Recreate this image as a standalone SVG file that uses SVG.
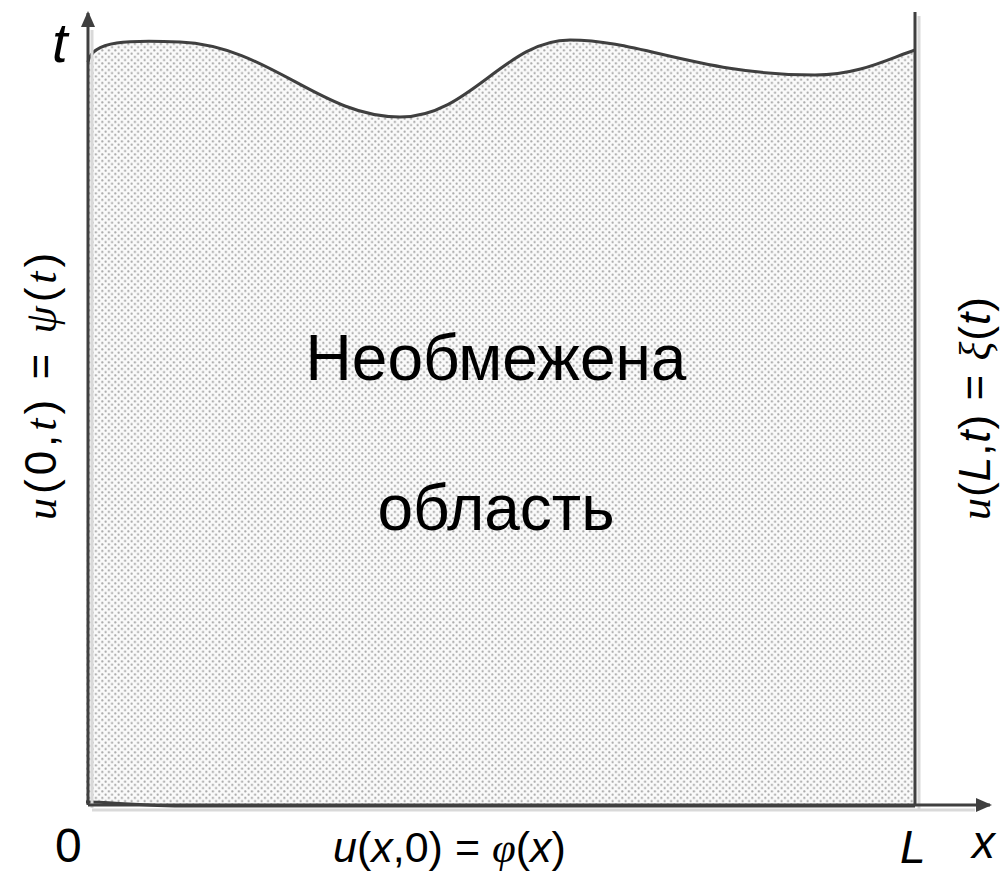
<svg xmlns="http://www.w3.org/2000/svg" width="1003" height="871" viewBox="0 0 1003 871">
<style>
.ln{fill:none;stroke:#3f3f3f;stroke-width:3}
.sh{fill:none;stroke:#d9d9d9;stroke-width:3}
.tx{font-family:"Liberation Sans",Arial,sans-serif;fill:#000}
.it{font-style:italic}
.sf{font-family:"Liberation Serif",serif;font-style:italic}
</style>
<defs>
<pattern id="dots" width="6.5" height="6.5" patternUnits="userSpaceOnUse">
<rect width="6.5" height="6.5" fill="#fafafa"/>
<circle cx="1.6" cy="1.6" r="1.1" fill="#aaaaaa"/>
<circle cx="4.85" cy="4.85" r="1.1" fill="#aaaaaa"/>
</pattern>
<marker id="arrb" markerWidth="16" markerHeight="16" refX="14" refY="8" orient="auto" markerUnits="userSpaceOnUse" viewBox="0 0 16 16">
<path d="M0,1 L16,8 L0,15 Z" fill="#3f3f3f"/>
</marker>
</defs>
<g id="region">
<path d="M88,62 C92,40 130,40 180,42 C270,46 320,117 400,117 C470,117 505,40 570,40 C640,40 700,75 815,75 C860,75 890,58 915,50 L915,806 L180,806 C130,805 100,802 86,802 Z" fill="url(#dots)"/>
<path class="ln" d="M88,62 C92,40 130,40 180,42 C270,46 320,117 400,117 C470,117 505,40 570,40 C640,40 700,75 815,75 C860,75 890,58 915,50"/>
<path class="ln" d="M86,802 C110,802 140,806 190,806 L915,806"/>
</g>
<g id="connectors">
<line class="sh" x1="92" y1="808" x2="92" y2="30"/>
<line class="sh" x1="919" y1="810" x2="919" y2="16"/>
<line class="sh" x1="92" y1="810" x2="975" y2="810"/>
<line class="ln" x1="88" y1="805" x2="88" y2="13" marker-end="url(#arrb)"/>
<line class="ln" x1="915" y1="806" x2="915" y2="12"/>
<line class="ln" x1="88" y1="805" x2="990" y2="805" marker-end="url(#arrb)"/>
</g>
<g id="labels">
<text class="tx it" x="52" y="62" font-size="56">t</text>
<text class="tx" x="55" y="862" font-size="48">0</text>
<text class="tx it" x="900" y="863" font-size="46">L</text>
<text class="tx it" x="972" y="858" font-size="46">x</text>
<text class="tx" x="333" y="862" font-size="43"><tspan class="it">u</tspan>(<tspan class="it">x</tspan>,0) = <tspan class="sf">φ</tspan>(<tspan class="it">x</tspan>)</text>
<text class="tx" transform="translate(56,520) rotate(-90)" font-size="44" letter-spacing="4"><tspan class="sf">u</tspan>(0,<tspan class="sf">t</tspan>) = <tspan class="sf">ψ</tspan>(<tspan class="sf">t</tspan>)</text>
<text class="tx" transform="translate(990,520) rotate(-90)" font-size="44" letter-spacing="1"><tspan class="sf">u</tspan>(<tspan class="it">L</tspan>,<tspan class="it">t</tspan>) = <tspan class="sf">ξ</tspan>(<tspan class="it">t</tspan>)</text>
<text class="tx" x="496" y="380" font-size="64" text-anchor="middle">Необмежена</text>
<text class="tx" x="496" y="530" font-size="64" text-anchor="middle">область</text>
</g>
</svg>
